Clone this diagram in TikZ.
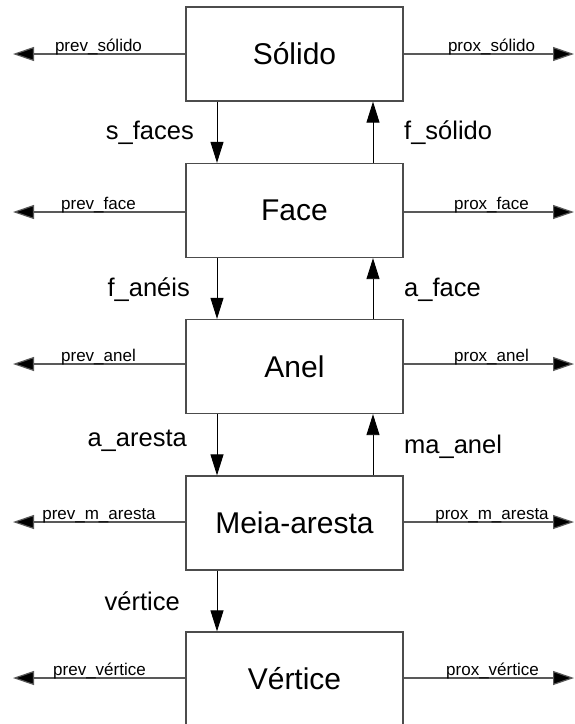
\documentclass[tikz,border=0pt]{standalone}
\usepackage{fontspec}
\setmainfont{Liberation Sans}
\usetikzlibrary{arrows.meta}
\begin{document}
\begin{tikzpicture}[x=1pt,y=-1pt,
  box/.style={draw=black!70, line width=1.3pt, minimum width=217pt, minimum height=94pt, inner sep=0pt, font=\fontsize{30}{36}\selectfont},
  link/.style={draw=black!65, line width=1.2pt, -{Triangle[length=21pt,width=14pt,fill=black]}},
  ptr/.style={draw=black, line width=0.9pt, -{Triangle[length=21pt,width=13pt]}},
  lab/.style={inner sep=0pt, font=\fontsize{25.5}{30}\selectfont},
  small/.style={inner sep=0pt, anchor=base, font=\fontsize{17}{20}\selectfont}]
\useasboundingbox (0,0) rectangle (574,724);
\clip (0,0) rectangle (574,724);
\fill[white] (0,0) rectangle (574,724);
% boxes
\node[box] (sol) at (294.5,54) {Sólido};
\node[box] (fac) at (294.5,210.5) {Face};
\node[box] (ane) at (294.5,366.5) {Anel};
\node[box] (mei) at (294.5,523) {Meia-aresta};
\node[box] (ver) at (294.5,679) {Vértice};
% side pointers
\coordinate (L1) at (13,54);   \coordinate (R1) at (574,54);
\coordinate (L2) at (13,212);  \coordinate (R2) at (574,212);
\coordinate (L3) at (13,364);  \coordinate (R3) at (574,364);
\coordinate (L4) at (13,522);  \coordinate (R4) at (574,522);
\coordinate (L5) at (13,678);  \coordinate (R5) at (574,678);
\draw[link] (sol.west |- L1) -- (L1);  \draw[link] (sol.east |- R1) -- (R1);
\draw[link] (fac.west |- L2) -- (L2);  \draw[link] (fac.east |- R2) -- (R2);
\draw[link] (ane.west |- L3) -- (L3);  \draw[link] (ane.east |- R3) -- (R3);
\draw[link] (mei.west |- L4) -- (L4);  \draw[link] (mei.east |- R4) -- (R4);
\draw[link] (ver.west |- L5) -- (L5);  \draw[link] (ver.east |- R5) -- (R5);
\node[small] (t1) at (98.5,51) {prev\_sólido};
\node[small] (u1) at (491.5,51) {prox\_sólido};
\node[small] (t2) at (98.5,209) {prev\_face};
\node[small] (u2) at (491.5,209) {prox\_face};
\node[small] (t3) at (98.5,361) {prev\_anel};
\node[small] (u3) at (491.5,361) {prox\_anel};
\node[small] (t4) at (99,519) {prev\_m\_aresta};
\node[small] (u4) at (492,519) {prox\_m\_aresta};
\node[small] (t5) at (99.5,675) {prev\_vértice};
\node[small] (u5) at (492.5,675) {prox\_vértice};
% vertical pointers
\coordinate (dn) at (217,0);
\coordinate (up) at (373,0);
\draw[ptr] (sol.south -| dn) -- (fac.north -| dn);
\draw[ptr] (fac.north -| up) -- (sol.south -| up);
\draw[ptr] (fac.south -| dn) -- (ane.north -| dn);
\draw[ptr] (ane.north -| up) -- (fac.south -| up);
\draw[ptr] (ane.south -| dn) -- (mei.north -| dn);
\draw[ptr] (mei.north -| up) -- (ane.south -| up);
\draw[ptr] (mei.south -| dn) -- (ver.north -| dn);
% labels
\node[lab, anchor=east] (a1) at (194,133) {s\_faces};
\node[lab, anchor=west] (b1) at (404,133) {f\_sólido};
\node[lab, anchor=east] (a2) at (190,290) {f\_anéis};
\node[lab, anchor=west] (b2) at (404,290) {a\_face};
\node[lab, anchor=east] (a3) at (187,441) {a\_aresta};
\node[lab, anchor=west] (b3) at (404,447) {ma\_anel};
\node[lab, anchor=east] (a4) at (180,601) {vértice};
\end{tikzpicture}
\end{document}
